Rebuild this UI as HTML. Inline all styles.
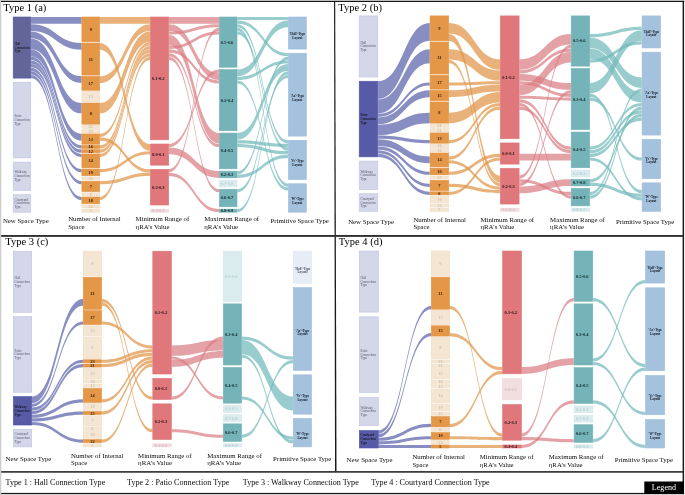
<!DOCTYPE html>
<html><head><meta charset="utf-8"><style>
html,body{margin:0;padding:0;background:#fff;}
svg{display:block;filter:blur(0.4px);}
text{font-family:"Liberation Serif",serif;}
</style></head><body>
<svg width="685" height="495" viewBox="0 0 685 495">
<rect x="0" y="0" width="685" height="495" fill="#fff"/>
<g fill="#5a63aa" fill-opacity="0.72"><path d="M31.05,16.93C56.32,16.93 56.32,16.93 81.6,16.93L81.6,23.73C56.32,23.73 56.32,23.73 31.05,23.73Z"/><path d="M31.05,24.19C56.32,24.19 56.32,42.96 81.6,42.96L81.6,49.77C56.32,49.77 56.32,31 31.05,31Z"/><path d="M31.05,31.45C56.32,31.45 56.32,76.26 81.6,76.26L81.6,83.07C56.32,83.07 56.32,38.26 31.05,38.26Z"/><path d="M31.05,38.71C56.32,38.71 56.32,102.93 81.6,102.93L81.6,113.37C56.32,113.37 56.32,49.15 31.05,49.15Z"/><path d="M31.05,49.6C56.32,49.6 56.32,133.85 81.6,133.85L81.6,140.66C56.32,140.66 56.32,56.41 31.05,56.41Z"/><path d="M31.05,56.85C56.32,56.85 56.32,145.37 81.6,145.37L81.6,148.55C56.32,148.55 56.32,60.03 31.05,60.03Z"/><path d="M31.05,60.49C56.32,60.49 56.32,149.62 81.6,149.62L81.6,152.8C56.32,152.8 56.32,63.67 31.05,63.67Z"/><path d="M31.05,64.11C56.32,64.11 56.32,153.88 81.6,153.88L81.6,157.06C56.32,157.06 56.32,67.29 31.05,67.29Z"/><path d="M31.05,67.74C56.32,67.74 56.32,169.03 81.6,169.03L81.6,172.21C56.32,172.21 56.32,70.92 31.05,70.92Z"/><path d="M31.05,71.37C56.32,71.37 56.32,181.17 81.6,181.17L81.6,184.35C56.32,184.35 56.32,74.55 31.05,74.55Z"/><path d="M31.05,75C56.32,75 56.32,196.95 81.6,196.95L81.6,200.13C56.32,200.13 56.32,78.19 31.05,78.19Z"/></g>
<g fill="#df9446" fill-opacity="0.72"><path d="M100,16.93C125.03,16.93 125.03,16.93 150.05,16.93L150.05,23.73C125.03,23.73 125.03,23.73 100,23.73Z"/><path d="M100,42.96C125.03,42.96 125.03,143.9 150.05,143.9L150.05,150.71C125.03,150.71 125.03,49.77 100,49.77Z"/><path d="M100,76.26C125.03,76.26 125.03,24.19 150.05,24.19L150.05,31C125.03,31 125.03,83.07 100,83.07Z"/><path d="M100,102.93C125.03,102.93 125.03,31.45 150.05,31.45L150.05,41.89C125.03,41.89 125.03,113.37 100,113.37Z"/><path d="M100,133.85C125.03,133.85 125.03,42.34 150.05,42.34L150.05,45.52C125.03,45.52 125.03,137.03 100,137.03Z"/><path d="M100,137.48C125.03,137.48 125.03,169.24 150.05,169.24L150.05,172.42C125.03,172.42 125.03,140.66 100,140.66Z"/><path d="M100,145.37C125.03,145.37 125.03,45.96 150.05,45.96L150.05,49.14C125.03,49.14 125.03,148.55 100,148.55Z"/><path d="M100,149.62C125.03,149.62 125.03,49.6 150.05,49.6L150.05,52.78C125.03,52.78 125.03,152.8 100,152.8Z"/><path d="M100,153.88C125.03,153.88 125.03,53.23 150.05,53.23L150.05,56.41C125.03,56.41 125.03,157.06 100,157.06Z"/><path d="M100,169.03C125.03,169.03 125.03,151.16 150.05,151.16L150.05,154.34C125.03,154.34 125.03,172.21 100,172.21Z"/><path d="M100,181.17C125.03,181.17 125.03,172.87 150.05,172.87L150.05,176.05C125.03,176.05 125.03,184.35 100,184.35Z"/><path d="M100,196.95C125.03,196.95 125.03,56.85 150.05,56.85L150.05,60.03C125.03,60.03 125.03,200.13 100,200.13Z"/></g>
<g fill="#d97d83" fill-opacity="0.72"><path d="M169,16.93C194.03,16.93 194.03,16.93 219.05,16.93L219.05,23.73C194.03,23.73 194.03,23.73 169,23.73Z"/><path d="M169,24.19C194.03,24.19 194.03,73.15 219.05,73.15L219.05,79.96C194.03,79.96 194.03,31 169,31Z"/><path d="M169,31.45C194.03,31.45 194.03,24.19 219.05,24.19L219.05,27.37C194.03,27.37 194.03,34.62 169,34.62Z"/><path d="M169,35.07C194.03,35.07 194.03,133.01 219.05,133.01L219.05,143.45C194.03,143.45 194.03,45.52 169,45.52Z"/><path d="M169,45.96C194.03,45.96 194.03,31.45 219.05,31.45L219.05,34.62C194.03,34.62 194.03,49.14 169,49.14Z"/><path d="M169,49.6C194.03,49.6 194.03,80.41 219.05,80.41L219.05,83.59C194.03,83.59 194.03,52.78 169,52.78Z"/><path d="M169,53.23C194.03,53.23 194.03,143.9 219.05,143.9L219.05,147.08C194.03,147.08 194.03,56.41 169,56.41Z"/><path d="M169,56.85C194.03,56.85 194.03,189.17 219.05,189.17L219.05,192.35C194.03,192.35 194.03,60.03 169,60.03Z"/><path d="M169,143.9C194.03,143.9 194.03,69.52 219.05,69.52L219.05,72.7C194.03,72.7 194.03,147.08 169,147.08Z"/><path d="M169,147.53C194.03,147.53 194.03,171.09 219.05,171.09L219.05,177.9C194.03,177.9 194.03,154.34 169,154.34Z"/><path d="M169,169.24C194.03,169.24 194.03,27.82 219.05,27.82L219.05,31C194.03,31 194.03,172.42 169,172.42Z"/><path d="M169,172.87C194.03,172.87 194.03,209.09 219.05,209.09L219.05,212.28C194.03,212.28 194.03,176.05 169,176.05Z"/></g>
<g fill="#72b8ba" fill-opacity="0.72"><path d="M237.3,16.93C262.68,16.93 262.68,16.93 288.05,16.93L288.05,20.11C262.68,20.11 262.68,20.11 237.3,20.11Z"/><path d="M237.3,20.55C262.68,20.55 262.68,53.15 288.05,53.15L288.05,56.33C262.68,56.33 262.68,23.73 237.3,23.73Z"/><path d="M237.3,24.19C262.68,24.19 262.68,140.2 288.05,140.2L288.05,143.38C262.68,143.38 262.68,27.37 237.3,27.37Z"/><path d="M237.3,27.82C262.68,27.82 262.68,183.69 288.05,183.69L288.05,186.87C262.68,186.87 262.68,31 237.3,31Z"/><path d="M237.3,31.45C262.68,31.45 262.68,147.46 288.05,147.46L288.05,150.64C262.68,150.64 262.68,34.62 237.3,34.62Z"/><path d="M237.3,69.52C262.68,69.52 262.68,20.55 288.05,20.55L288.05,27.36C262.68,27.36 262.68,76.33 237.3,76.33Z"/><path d="M237.3,76.78C262.68,76.78 262.68,60.41 288.05,60.41L288.05,63.59C262.68,63.59 262.68,79.96 237.3,79.96Z"/><path d="M237.3,80.41C262.68,80.41 262.68,187.32 288.05,187.32L288.05,190.5C262.68,190.5 262.68,83.59 237.3,83.59Z"/><path d="M237.3,133.01C262.68,133.01 262.68,64.04 288.05,64.04L288.05,70.85C262.68,70.85 262.68,139.82 237.3,139.82Z"/><path d="M237.3,140.27C262.68,140.27 262.68,143.83 288.05,143.83L288.05,147.01C262.68,147.01 262.68,143.45 237.3,143.45Z"/><path d="M237.3,143.9C262.68,143.9 262.68,151.09 288.05,151.09L288.05,154.27C262.68,154.27 262.68,147.08 237.3,147.08Z"/><path d="M237.3,171.09C262.68,171.09 262.68,56.78 288.05,56.78L288.05,59.96C262.68,59.96 262.68,174.27 237.3,174.27Z"/><path d="M237.3,174.72C262.68,174.72 262.68,154.72 288.05,154.72L288.05,157.9C262.68,157.9 262.68,177.9 237.3,177.9Z"/><path d="M237.3,189.17C262.68,189.17 262.68,74.93 288.05,74.93L288.05,78.11C262.68,78.11 262.68,192.35 237.3,192.35Z"/><path d="M237.3,209.09C262.68,209.09 262.68,71.3 288.05,71.3L288.05,74.48C262.68,74.48 262.68,212.28 237.3,212.28Z"/></g>
<rect x="13.2" y="17" width="17.55" height="61.11" fill="#636598" stroke="#5056a8" stroke-width="0.6"/>
<rect x="13.2" y="82.27" width="17.55" height="75.63" fill="#d4d7e9" stroke="#bfc4e2" stroke-width="0.6"/>
<rect x="13.2" y="162.05" width="17.55" height="28.44" fill="#d4d7e9" stroke="#bfc4e2" stroke-width="0.6"/>
<rect x="13.2" y="194.65" width="17.55" height="17.55" fill="#d4d7e9" stroke="#bfc4e2" stroke-width="0.6"/>
<rect x="81.9" y="17" width="17.8" height="24.81" fill="#e49747" stroke="#e39340" stroke-width="0.6"/>
<rect x="81.9" y="43.04" width="17.8" height="32.07" fill="#e49747" stroke="#e39340" stroke-width="0.6"/>
<rect x="81.9" y="76.34" width="17.8" height="13.92" fill="#e49747" stroke="#e39340" stroke-width="0.6"/>
<rect x="81.9" y="91.48" width="17.8" height="10.29" fill="#f4e6d2" stroke="#f0dcc4" stroke-width="0.6"/>
<rect x="81.9" y="103" width="17.8" height="21.18" fill="#e49747" stroke="#e39340" stroke-width="0.6"/>
<rect x="81.9" y="125.41" width="17.8" height="3.03" fill="#f4e6d2" stroke="#f0dcc4" stroke-width="0.6"/>
<rect x="81.9" y="129.67" width="17.8" height="3.03" fill="#f4e6d2" stroke="#f0dcc4" stroke-width="0.6"/>
<rect x="81.9" y="133.92" width="17.8" height="10.29" fill="#e49747" stroke="#e39340" stroke-width="0.6"/>
<rect x="81.9" y="145.44" width="17.8" height="3.03" fill="#e49747" stroke="#e39340" stroke-width="0.6"/>
<rect x="81.9" y="149.7" width="17.8" height="3.03" fill="#e49747" stroke="#e39340" stroke-width="0.6"/>
<rect x="81.9" y="153.96" width="17.8" height="13.92" fill="#e49747" stroke="#e39340" stroke-width="0.6"/>
<rect x="81.9" y="169.1" width="17.8" height="6.66" fill="#e49747" stroke="#e39340" stroke-width="0.6"/>
<rect x="81.9" y="176.99" width="17.8" height="3.03" fill="#f4e6d2" stroke="#f0dcc4" stroke-width="0.6"/>
<rect x="81.9" y="181.25" width="17.8" height="10.29" fill="#e49747" stroke="#e39340" stroke-width="0.6"/>
<rect x="81.9" y="192.77" width="17.8" height="3.03" fill="#f4e6d2" stroke="#f0dcc4" stroke-width="0.6"/>
<rect x="81.9" y="197.02" width="17.8" height="6.66" fill="#e49747" stroke="#e39340" stroke-width="0.6"/>
<rect x="81.9" y="204.91" width="17.8" height="3.03" fill="#f4e6d2" stroke="#f0dcc4" stroke-width="0.6"/>
<rect x="81.9" y="209.17" width="17.8" height="3.03" fill="#f4e6d2" stroke="#f0dcc4" stroke-width="0.6"/>
<rect x="150.35" y="17" width="18.35" height="122.82" fill="#df777b" stroke="#df777b" stroke-width="0.6"/>
<rect x="150.35" y="143.98" width="18.35" height="21.18" fill="#df777b" stroke="#df777b" stroke-width="0.6"/>
<rect x="150.35" y="169.31" width="18.35" height="35.7" fill="#df777b" stroke="#df777b" stroke-width="0.6"/>
<rect x="150.35" y="209.17" width="18.35" height="3.03" fill="#f2dde0" stroke="#f0d6da" stroke-width="0.6"/>
<rect x="219.35" y="17" width="17.65" height="50.22" fill="#74b3b8" stroke="#74b3b8" stroke-width="0.6"/>
<rect x="219.35" y="69.6" width="17.65" height="61.11" fill="#74b3b8" stroke="#74b3b8" stroke-width="0.6"/>
<rect x="219.35" y="133.09" width="17.65" height="35.7" fill="#74b3b8" stroke="#74b3b8" stroke-width="0.6"/>
<rect x="219.35" y="171.17" width="17.65" height="6.66" fill="#74b3b8" stroke="#74b3b8" stroke-width="0.6"/>
<rect x="219.35" y="180.2" width="17.65" height="6.66" fill="#dbecef" stroke="#d2e6e9" stroke-width="0.6"/>
<rect x="219.35" y="189.24" width="17.65" height="17.55" fill="#74b3b8" stroke="#74b3b8" stroke-width="0.6"/>
<rect x="219.35" y="209.17" width="17.65" height="3.03" fill="#74b3b8" stroke="#74b3b8" stroke-width="0.6"/>
<rect x="288.35" y="17" width="18" height="32.07" fill="#a4c1dd" stroke="#a0bedc" stroke-width="0.6"/>
<rect x="288.35" y="53.23" width="18" height="82.89" fill="#a4c1dd" stroke="#a0bedc" stroke-width="0.6"/>
<rect x="288.35" y="140.27" width="18" height="39.33" fill="#a4c1dd" stroke="#a0bedc" stroke-width="0.6"/>
<rect x="288.35" y="183.76" width="18" height="28.44" fill="#a4c1dd" stroke="#a0bedc" stroke-width="0.6"/>
<text x="14.5" y="44.76" font-size="3.3" fill="#000000">Hall</text>
<text x="14.5" y="48.55" font-size="3.3" fill="#000000">Connection</text>
<text x="14.5" y="52.35" font-size="3.3" fill="#000000">Type</text>
<text x="14.5" y="117.28" font-size="3.3" fill="#55576a">Patio</text>
<text x="14.5" y="121.08" font-size="3.3" fill="#55576a">Connection</text>
<text x="14.5" y="124.88" font-size="3.3" fill="#55576a">Type</text>
<text x="14.5" y="173.47" font-size="3.3" fill="#55576a">Walkway</text>
<text x="14.5" y="177.27" font-size="3.3" fill="#55576a">Connection</text>
<text x="14.5" y="181.07" font-size="3.3" fill="#55576a">Type</text>
<text x="14.5" y="200.62" font-size="3.3" fill="#55576a">Courtyard</text>
<text x="14.5" y="204.43" font-size="3.3" fill="#55576a">Connection</text>
<text x="14.5" y="208.23" font-size="3.3" fill="#55576a">Type</text>
<text x="90.8" y="30.86" font-size="4.4" font-weight="bold" text-anchor="middle" fill="#2a1a08">9</text>
<text x="90.8" y="60.52" font-size="4.4" font-weight="bold" text-anchor="middle" fill="#2a1a08">11</text>
<text x="90.8" y="84.75" font-size="4.4" font-weight="bold" text-anchor="middle" fill="#2a1a08">17</text>
<text x="90.8" y="98.08" font-size="4.4" font-weight="bold" text-anchor="middle" fill="#cfc3b0">15</text>
<text x="90.8" y="115.04" font-size="4.4" font-weight="bold" text-anchor="middle" fill="#2a1a08">8</text>
<text x="90.8" y="128.37" font-size="4.4" font-weight="bold" text-anchor="middle" fill="#cfc3b0">21</text>
<text x="90.8" y="132.63" font-size="4.4" font-weight="bold" text-anchor="middle" fill="#cfc3b0">23</text>
<text x="90.8" y="140.52" font-size="4.4" font-weight="bold" text-anchor="middle" fill="#2a1a08">13</text>
<text x="90.8" y="148.41" font-size="4.4" font-weight="bold" text-anchor="middle" fill="#2a1a08">16</text>
<text x="90.8" y="152.66" font-size="4.4" font-weight="bold" text-anchor="middle" fill="#2a1a08">12</text>
<text x="90.8" y="162.37" font-size="4.4" font-weight="bold" text-anchor="middle" fill="#2a1a08">14</text>
<text x="90.8" y="173.88" font-size="4.4" font-weight="bold" text-anchor="middle" fill="#2a1a08">19</text>
<text x="90.8" y="179.96" font-size="4.4" font-weight="bold" text-anchor="middle" fill="#cfc3b0">25</text>
<text x="90.8" y="187.84" font-size="4.4" font-weight="bold" text-anchor="middle" fill="#2a1a08">7</text>
<text x="90.8" y="195.73" font-size="4.4" font-weight="bold" text-anchor="middle" fill="#cfc3b0">6</text>
<text x="90.8" y="201.8" font-size="4.4" font-weight="bold" text-anchor="middle" fill="#2a1a08">18</text>
<text x="90.8" y="207.88" font-size="4.4" font-weight="bold" text-anchor="middle" fill="#cfc3b0">22</text>
<text x="90.8" y="212.13" font-size="4.4" font-weight="bold" text-anchor="middle" fill="#cfc3b0">5</text>
<text x="158.33" y="79.86" font-size="4.4" font-weight="bold" text-anchor="middle" fill="#2a1214">0.1-0.2</text>
<text x="158.33" y="156.02" font-size="4.4" font-weight="bold" text-anchor="middle" fill="#2a1214">0.0-0.1</text>
<text x="158.33" y="188.61" font-size="4.4" font-weight="bold" text-anchor="middle" fill="#2a1214">0.2-0.3</text>
<text x="158.33" y="212.13" font-size="4.4" font-weight="bold" text-anchor="middle" fill="#d3bfc2">0.3-0.4</text>
<text x="226.98" y="43.56" font-size="4.4" font-weight="bold" text-anchor="middle" fill="#10282a">0.5-0.6</text>
<text x="226.98" y="101.6" font-size="4.4" font-weight="bold" text-anchor="middle" fill="#10282a">0.3-0.4</text>
<text x="226.98" y="152.39" font-size="4.4" font-weight="bold" text-anchor="middle" fill="#10282a">0.4-0.5</text>
<text x="226.98" y="175.94" font-size="4.4" font-weight="bold" text-anchor="middle" fill="#10282a">0.2-0.3</text>
<text x="226.98" y="184.98" font-size="4.4" font-weight="bold" text-anchor="middle" fill="#b9cfd2">0.7-0.8</text>
<text x="226.98" y="199.47" font-size="4.4" font-weight="bold" text-anchor="middle" fill="#10282a">0.6-0.7</text>
<text x="226.98" y="212.13" font-size="4.4" font-weight="bold" text-anchor="middle" fill="#10282a">0.8-0.9</text>
<text x="297.35" y="35.34" font-size="3.3" font-weight="bold" text-anchor="middle" fill="#101820">'Hall'-Type</text>
<text x="297.35" y="38.99" font-size="3.3" font-weight="bold" text-anchor="middle" fill="#101820">Layout</text>
<text x="297.35" y="96.97" font-size="3.3" font-weight="bold" text-anchor="middle" fill="#101820">'Ax'-Type</text>
<text x="297.35" y="100.62" font-size="3.3" font-weight="bold" text-anchor="middle" fill="#101820">Layout</text>
<text x="297.35" y="162.24" font-size="3.3" font-weight="bold" text-anchor="middle" fill="#101820">'Ve'-Type</text>
<text x="297.35" y="165.89" font-size="3.3" font-weight="bold" text-anchor="middle" fill="#101820">Layout</text>
<text x="297.35" y="200.28" font-size="3.3" font-weight="bold" text-anchor="middle" fill="#101820">'W'-Type</text>
<text x="297.35" y="203.93" font-size="3.3" font-weight="bold" text-anchor="middle" fill="#101820">Layout</text>
<text x="3.3" y="10.8" font-size="10.5" fill="#000">Type 1 (a)</text>
<g font-size="6.8" fill="#0a0a0a">
<text x="2.9" y="223.4">New Space Type</text>
<text x="68.2" y="221.4">Number of Internal</text>
<text x="68.2" y="228.6">Space</text>
<text x="135.6" y="221.4">Minimum Range of</text>
<text x="135.6" y="228.6">ηRA’s Value</text>
<text x="204.3" y="221.4">Maximum Range of</text>
<text x="204.3" y="228.6">ηRA’s Value</text>
<text x="270.6" y="223.4">Primitive Space Type</text>
</g>
<g fill="#5a63aa" fill-opacity="0.72"><path d="M378.1,81.16C403.95,81.16 403.95,23.09 429.8,23.09L429.8,40.78C403.95,40.78 403.95,98.86 378.1,98.86Z"/><path d="M378.1,99.31C403.95,99.31 403.95,49.13 429.8,49.13L429.8,63.2C403.95,63.2 403.95,113.38 378.1,113.38Z"/><path d="M378.1,113.83C403.95,113.83 403.95,82.44 429.8,82.44L429.8,85.62C403.95,85.62 403.95,117.01 378.1,117.01Z"/><path d="M378.1,117.46C403.95,117.46 403.95,90.34 429.8,90.34L429.8,97.15C403.95,97.15 403.95,124.27 378.1,124.27Z"/><path d="M378.1,124.72C403.95,124.72 403.95,112.76 429.8,112.76L429.8,123.2C403.95,123.2 403.95,135.16 378.1,135.16Z"/><path d="M378.1,135.61C403.95,135.61 403.95,140.09 429.8,140.09L429.8,143.27C403.95,143.27 403.95,138.79 378.1,138.79Z"/><path d="M378.1,139.24C403.95,139.24 403.95,156.53 429.8,156.53L429.8,163.34C403.95,163.34 403.95,146.05 378.1,146.05Z"/><path d="M378.1,146.5C403.95,146.5 403.95,171.69 429.8,171.69L429.8,174.87C403.95,174.87 403.95,149.68 378.1,149.68Z"/><path d="M378.1,150.13C403.95,150.13 403.95,183.86 429.8,183.86L429.8,187.04C403.95,187.04 403.95,153.31 378.1,153.31Z"/><path d="M378.1,153.76C403.95,153.76 403.95,191.76 429.8,191.76L429.8,194.94C403.95,194.94 403.95,156.94 378.1,156.94Z"/></g>
<g fill="#df9446" fill-opacity="0.72"><path d="M449,23.09C474.5,23.09 474.5,59.39 500,59.39L500,69.83C474.5,69.83 474.5,33.53 449,33.53Z"/><path d="M449,33.98C474.5,33.98 474.5,175.53 500,175.53L500,182.34C474.5,182.34 474.5,40.79 449,40.79Z"/><path d="M449,49.13C474.5,49.13 474.5,70.27 500,70.27L500,80.71C474.5,80.71 474.5,59.57 449,59.57Z"/><path d="M449,60.02C474.5,60.02 474.5,182.79 500,182.79L500,185.97C474.5,185.97 474.5,63.2 449,63.2Z"/><path d="M449,82.44C474.5,82.44 474.5,81.16 500,81.16L500,84.34C474.5,84.34 474.5,85.62 449,85.62Z"/><path d="M449,90.34C474.5,90.34 474.5,84.79 500,84.79L500,91.6C474.5,91.6 474.5,97.15 449,97.15Z"/><path d="M449,112.76C474.5,112.76 474.5,92.05 500,92.05L500,102.49C474.5,102.49 474.5,123.2 449,123.2Z"/><path d="M449,140.09C474.5,140.09 474.5,102.94 500,102.94L500,106.12C474.5,106.12 474.5,143.27 449,143.27Z"/><path d="M449,156.53C474.5,156.53 474.5,106.57 500,106.57L500,109.75C474.5,109.75 474.5,159.71 449,159.71Z"/><path d="M449,160.16C474.5,160.16 474.5,186.42 500,186.42L500,189.6C474.5,189.6 474.5,163.34 449,163.34Z"/><path d="M449,171.69C474.5,171.69 474.5,153.76 500,153.76L500,156.94C474.5,156.94 474.5,174.87 449,174.87Z"/><path d="M449,183.86C474.5,183.86 474.5,190.05 500,190.05L500,193.23C474.5,193.23 474.5,187.04 449,187.04Z"/><path d="M449,191.76C474.5,191.76 474.5,157.39 500,157.39L500,160.57C474.5,160.57 474.5,194.94 449,194.94Z"/></g>
<g fill="#d97d83" fill-opacity="0.72"><path d="M519.4,59.39C545.15,59.39 545.15,33.98 570.9,33.98L570.9,44.42C545.15,44.42 545.15,69.83 519.4,69.83Z"/><path d="M519.4,70.27C545.15,70.27 545.15,48.5 570.9,48.5L570.9,51.68C545.15,51.68 545.15,73.45 519.4,73.45Z"/><path d="M519.4,73.9C545.15,73.9 545.15,82.98 570.9,82.98L570.9,89.79C545.15,89.79 545.15,80.71 519.4,80.71Z"/><path d="M519.4,81.16C545.15,81.16 545.15,93.87 570.9,93.87L570.9,97.05C545.15,97.05 545.15,84.34 519.4,84.34Z"/><path d="M519.4,84.79C545.15,84.79 545.15,52.12 570.9,52.12L570.9,62.56C545.15,62.56 545.15,95.23 519.4,95.23Z"/><path d="M519.4,95.68C545.15,95.68 545.15,97.5 570.9,97.5L570.9,100.68C545.15,100.68 545.15,98.86 519.4,98.86Z"/><path d="M519.4,99.31C545.15,99.31 545.15,146.5 570.9,146.5L570.9,149.68C545.15,149.68 545.15,102.49 519.4,102.49Z"/><path d="M519.4,102.94C545.15,102.94 545.15,195.49 570.9,195.49L570.9,198.67C545.15,198.67 545.15,106.12 519.4,106.12Z"/><path d="M519.4,106.57C545.15,106.57 545.15,150.13 570.9,150.13L570.9,153.31C545.15,153.31 545.15,109.75 519.4,109.75Z"/><path d="M519.4,153.76C545.15,153.76 545.15,153.76 570.9,153.76L570.9,160.57C545.15,160.57 545.15,160.57 519.4,160.57Z"/><path d="M519.4,175.53C545.15,175.53 545.15,44.87 570.9,44.87L570.9,48.05C545.15,48.05 545.15,178.71 519.4,178.71Z"/><path d="M519.4,179.16C545.15,179.16 545.15,191.86 570.9,191.86L570.9,195.04C545.15,195.04 545.15,182.34 519.4,182.34Z"/><path d="M519.4,182.79C545.15,182.79 545.15,90.24 570.9,90.24L570.9,93.42C545.15,93.42 545.15,185.97 519.4,185.97Z"/><path d="M519.4,186.42C545.15,186.42 545.15,179.16 570.9,179.16L570.9,185.97C545.15,185.97 545.15,193.23 519.4,193.23Z"/></g>
<g fill="#72b8ba" fill-opacity="0.72"><path d="M590,33.98C615.9,33.98 615.9,26.72 641.8,26.72L641.8,29.9C615.9,29.9 615.9,37.16 590,37.16Z"/><path d="M590,37.61C615.9,37.61 615.9,77.53 641.8,77.53L641.8,87.97C615.9,87.97 615.9,48.05 590,48.05Z"/><path d="M590,48.5C615.9,48.5 615.9,92.05 641.8,92.05L641.8,102.49C615.9,102.49 615.9,58.94 590,58.94Z"/><path d="M590,59.39C615.9,59.39 615.9,41.23 641.8,41.23L641.8,44.41C615.9,44.41 615.9,62.57 590,62.57Z"/><path d="M590,82.98C615.9,82.98 615.9,30.34 641.8,30.34L641.8,40.78C615.9,40.78 615.9,93.42 590,93.42Z"/><path d="M590,93.87C615.9,93.87 615.9,190.04 641.8,190.04L641.8,193.22C615.9,193.22 615.9,97.05 590,97.05Z"/><path d="M590,97.5C615.9,97.5 615.9,157.38 641.8,157.38L641.8,160.56C615.9,160.56 615.9,100.68 590,100.68Z"/><path d="M590,146.5C615.9,146.5 615.9,102.94 641.8,102.94L641.8,106.12C615.9,106.12 615.9,149.68 590,149.68Z"/><path d="M590,150.13C615.9,150.13 615.9,110.2 641.8,110.2L641.8,113.38C615.9,113.38 615.9,153.31 590,153.31Z"/><path d="M590,153.76C615.9,153.76 615.9,117.46 641.8,117.46L641.8,120.64C615.9,120.64 615.9,156.94 590,156.94Z"/><path d="M590,157.39C615.9,157.39 615.9,197.31 641.8,197.31L641.8,200.49C615.9,200.49 615.9,160.57 590,160.57Z"/><path d="M590,179.16C615.9,179.16 615.9,113.83 641.8,113.83L641.8,117.01C615.9,117.01 615.9,182.34 590,182.34Z"/><path d="M590,182.79C615.9,182.79 615.9,193.67 641.8,193.67L641.8,196.85C615.9,196.85 615.9,185.97 590,185.97Z"/><path d="M590,191.86C615.9,191.86 615.9,88.42 641.8,88.42L641.8,91.6C615.9,91.6 615.9,195.04 590,195.04Z"/><path d="M590,195.49C615.9,195.49 615.9,106.57 641.8,106.57L641.8,109.75C615.9,109.75 615.9,198.67 590,198.67Z"/></g>
<rect x="359.2" y="15.9" width="18.6" height="61.11" fill="#d4d7e9" stroke="#bfc4e2" stroke-width="0.6"/>
<rect x="359.2" y="81.23" width="18.6" height="75.63" fill="#575aa4" stroke="#5056a8" stroke-width="0.6"/>
<rect x="359.2" y="161.09" width="18.6" height="28.44" fill="#d4d7e9" stroke="#bfc4e2" stroke-width="0.6"/>
<rect x="359.2" y="193.75" width="18.6" height="17.55" fill="#d4d7e9" stroke="#bfc4e2" stroke-width="0.6"/>
<rect x="430.1" y="15.9" width="18.6" height="24.81" fill="#e49747" stroke="#e39340" stroke-width="0.6"/>
<rect x="430.1" y="41.95" width="18.6" height="32.07" fill="#e49747" stroke="#e39340" stroke-width="0.6"/>
<rect x="430.1" y="75.26" width="18.6" height="13.92" fill="#e49747" stroke="#e39340" stroke-width="0.6"/>
<rect x="430.1" y="90.42" width="18.6" height="10.29" fill="#e49747" stroke="#e39340" stroke-width="0.6"/>
<rect x="430.1" y="101.95" width="18.6" height="21.18" fill="#e49747" stroke="#e39340" stroke-width="0.6"/>
<rect x="430.1" y="124.37" width="18.6" height="3.03" fill="#f4e6d2" stroke="#f0dcc4" stroke-width="0.6"/>
<rect x="430.1" y="128.64" width="18.6" height="3.03" fill="#f4e6d2" stroke="#f0dcc4" stroke-width="0.6"/>
<rect x="430.1" y="132.91" width="18.6" height="10.29" fill="#e49747" stroke="#e39340" stroke-width="0.6"/>
<rect x="430.1" y="144.44" width="18.6" height="3.03" fill="#f4e6d2" stroke="#f0dcc4" stroke-width="0.6"/>
<rect x="430.1" y="148.7" width="18.6" height="3.03" fill="#f4e6d2" stroke="#f0dcc4" stroke-width="0.6"/>
<rect x="430.1" y="152.97" width="18.6" height="13.92" fill="#e49747" stroke="#e39340" stroke-width="0.6"/>
<rect x="430.1" y="168.13" width="18.6" height="6.66" fill="#e49747" stroke="#e39340" stroke-width="0.6"/>
<rect x="430.1" y="176.03" width="18.6" height="3.03" fill="#f4e6d2" stroke="#f0dcc4" stroke-width="0.6"/>
<rect x="430.1" y="180.3" width="18.6" height="10.29" fill="#e49747" stroke="#e39340" stroke-width="0.6"/>
<rect x="430.1" y="191.83" width="18.6" height="3.03" fill="#e49747" stroke="#e39340" stroke-width="0.6"/>
<rect x="430.1" y="196.1" width="18.6" height="6.66" fill="#f4e6d2" stroke="#f0dcc4" stroke-width="0.6"/>
<rect x="430.1" y="204" width="18.6" height="3.03" fill="#f4e6d2" stroke="#f0dcc4" stroke-width="0.6"/>
<rect x="430.1" y="208.27" width="18.6" height="3.03" fill="#f4e6d2" stroke="#f0dcc4" stroke-width="0.6"/>
<rect x="500.3" y="15.9" width="18.8" height="122.82" fill="#df777b" stroke="#df777b" stroke-width="0.6"/>
<rect x="500.3" y="142.94" width="18.8" height="21.18" fill="#df777b" stroke="#df777b" stroke-width="0.6"/>
<rect x="500.3" y="168.35" width="18.8" height="35.7" fill="#df777b" stroke="#df777b" stroke-width="0.6"/>
<rect x="500.3" y="208.27" width="18.8" height="3.03" fill="#f2dde0" stroke="#f0d6da" stroke-width="0.6"/>
<rect x="571.2" y="15.9" width="18.5" height="50.22" fill="#74b3b8" stroke="#74b3b8" stroke-width="0.6"/>
<rect x="571.2" y="68.53" width="18.5" height="61.11" fill="#74b3b8" stroke="#74b3b8" stroke-width="0.6"/>
<rect x="571.2" y="132.05" width="18.5" height="35.7" fill="#74b3b8" stroke="#74b3b8" stroke-width="0.6"/>
<rect x="571.2" y="170.17" width="18.5" height="6.66" fill="#dbecef" stroke="#d2e6e9" stroke-width="0.6"/>
<rect x="571.2" y="179.24" width="18.5" height="6.66" fill="#74b3b8" stroke="#74b3b8" stroke-width="0.6"/>
<rect x="571.2" y="188.31" width="18.5" height="17.55" fill="#74b3b8" stroke="#74b3b8" stroke-width="0.6"/>
<rect x="571.2" y="208.27" width="18.5" height="3.03" fill="#dbecef" stroke="#d2e6e9" stroke-width="0.6"/>
<rect x="642.1" y="15.9" width="18.5" height="32.07" fill="#a4c1dd" stroke="#a0bedc" stroke-width="0.6"/>
<rect x="642.1" y="52.19" width="18.5" height="82.89" fill="#a4c1dd" stroke="#a0bedc" stroke-width="0.6"/>
<rect x="642.1" y="139.31" width="18.5" height="39.33" fill="#a4c1dd" stroke="#a0bedc" stroke-width="0.6"/>
<rect x="642.1" y="182.86" width="18.5" height="28.44" fill="#a4c1dd" stroke="#a0bedc" stroke-width="0.6"/>
<text x="360.5" y="43.66" font-size="3.3" fill="#55576a">Hall</text>
<text x="360.5" y="47.45" font-size="3.3" fill="#55576a">Connection</text>
<text x="360.5" y="51.25" font-size="3.3" fill="#55576a">Type</text>
<text x="360.5" y="116.25" font-size="3.3" fill="#000000">Patio</text>
<text x="360.5" y="120.05" font-size="3.3" fill="#000000">Connection</text>
<text x="360.5" y="123.85" font-size="3.3" fill="#000000">Type</text>
<text x="360.5" y="172.51" font-size="3.3" fill="#55576a">Walkway</text>
<text x="360.5" y="176.31" font-size="3.3" fill="#55576a">Connection</text>
<text x="360.5" y="180.11" font-size="3.3" fill="#55576a">Type</text>
<text x="360.5" y="199.73" font-size="3.3" fill="#55576a">Courtyard</text>
<text x="360.5" y="203.53" font-size="3.3" fill="#55576a">Connection</text>
<text x="360.5" y="207.33" font-size="3.3" fill="#55576a">Type</text>
<text x="439.4" y="29.75" font-size="4.4" font-weight="bold" text-anchor="middle" fill="#2a1a08">9</text>
<text x="439.4" y="59.43" font-size="4.4" font-weight="bold" text-anchor="middle" fill="#2a1a08">11</text>
<text x="439.4" y="83.67" font-size="4.4" font-weight="bold" text-anchor="middle" fill="#2a1a08">17</text>
<text x="439.4" y="97.01" font-size="4.4" font-weight="bold" text-anchor="middle" fill="#2a1a08">15</text>
<text x="439.4" y="113.99" font-size="4.4" font-weight="bold" text-anchor="middle" fill="#2a1a08">8</text>
<text x="439.4" y="127.33" font-size="4.4" font-weight="bold" text-anchor="middle" fill="#cfc3b0">21</text>
<text x="439.4" y="131.6" font-size="4.4" font-weight="bold" text-anchor="middle" fill="#cfc3b0">21</text>
<text x="439.4" y="139.5" font-size="4.4" font-weight="bold" text-anchor="middle" fill="#2a1a08">13</text>
<text x="439.4" y="147.4" font-size="4.4" font-weight="bold" text-anchor="middle" fill="#cfc3b0">16</text>
<text x="439.4" y="151.67" font-size="4.4" font-weight="bold" text-anchor="middle" fill="#cfc3b0">12</text>
<text x="439.4" y="161.38" font-size="4.4" font-weight="bold" text-anchor="middle" fill="#2a1a08">14</text>
<text x="439.4" y="172.91" font-size="4.4" font-weight="bold" text-anchor="middle" fill="#2a1a08">10</text>
<text x="439.4" y="179" font-size="4.4" font-weight="bold" text-anchor="middle" fill="#cfc3b0">25</text>
<text x="439.4" y="186.9" font-size="4.4" font-weight="bold" text-anchor="middle" fill="#2a1a08">7</text>
<text x="439.4" y="194.8" font-size="4.4" font-weight="bold" text-anchor="middle" fill="#2a1a08">6</text>
<text x="439.4" y="200.88" font-size="4.4" font-weight="bold" text-anchor="middle" fill="#cfc3b0">10</text>
<text x="439.4" y="206.97" font-size="4.4" font-weight="bold" text-anchor="middle" fill="#cfc3b0">22</text>
<text x="439.4" y="211.24" font-size="4.4" font-weight="bold" text-anchor="middle" fill="#cfc3b0">5</text>
<text x="508.5" y="78.76" font-size="4.4" font-weight="bold" text-anchor="middle" fill="#2a1214">0.1-0.2</text>
<text x="508.5" y="154.98" font-size="4.4" font-weight="bold" text-anchor="middle" fill="#2a1214">0.0-0.1</text>
<text x="508.5" y="187.65" font-size="4.4" font-weight="bold" text-anchor="middle" fill="#2a1214">0.2-0.3</text>
<text x="508.5" y="211.24" font-size="4.4" font-weight="bold" text-anchor="middle" fill="#d3bfc2">0.3-0.4</text>
<text x="579.25" y="42.46" font-size="4.4" font-weight="bold" text-anchor="middle" fill="#10282a">0.5-0.6</text>
<text x="579.25" y="100.54" font-size="4.4" font-weight="bold" text-anchor="middle" fill="#10282a">0.3-0.4</text>
<text x="579.25" y="151.35" font-size="4.4" font-weight="bold" text-anchor="middle" fill="#10282a">0.4-0.5</text>
<text x="579.25" y="174.94" font-size="4.4" font-weight="bold" text-anchor="middle" fill="#b9cfd2">0.2-0.3</text>
<text x="579.25" y="184.02" font-size="4.4" font-weight="bold" text-anchor="middle" fill="#10282a">0.7-0.8</text>
<text x="579.25" y="198.53" font-size="4.4" font-weight="bold" text-anchor="middle" fill="#10282a">0.6-0.7</text>
<text x="579.25" y="211.23" font-size="4.4" font-weight="bold" text-anchor="middle" fill="#b9cfd2">0.8-0.9</text>
<text x="651.35" y="32.73" font-size="3.3" font-weight="bold" text-anchor="middle" fill="#101820">'Hall'-Type</text>
<text x="651.35" y="36.39" font-size="3.3" font-weight="bold" text-anchor="middle" fill="#101820">Layout</text>
<text x="651.35" y="94.44" font-size="3.3" font-weight="bold" text-anchor="middle" fill="#101820">'Ax'-Type</text>
<text x="651.35" y="98.09" font-size="3.3" font-weight="bold" text-anchor="middle" fill="#101820">Layout</text>
<text x="651.35" y="159.77" font-size="3.3" font-weight="bold" text-anchor="middle" fill="#101820">'Ve'-Type</text>
<text x="651.35" y="163.42" font-size="3.3" font-weight="bold" text-anchor="middle" fill="#101820">Layout</text>
<text x="651.35" y="197.88" font-size="3.3" font-weight="bold" text-anchor="middle" fill="#101820">'W'-Type</text>
<text x="651.35" y="201.53" font-size="3.3" font-weight="bold" text-anchor="middle" fill="#101820">Layout</text>
<text x="338.3" y="10.8" font-size="10.5" fill="#000">Type 2 (b)</text>
<g font-size="6.8" fill="#0a0a0a">
<text x="348.2" y="224.3">New Space Type</text>
<text x="413.4" y="222.2">Number of Internal</text>
<text x="413.4" y="229.4">Space</text>
<text x="480.5" y="222.2">Minimum Range of</text>
<text x="480.5" y="229.4">ηRA’s Value</text>
<text x="550.1" y="222.2">Maximum Range of</text>
<text x="550.1" y="229.4">ηRA’s Value</text>
<text x="616" y="224.3">Primitive Space Type</text>
</g>
<g fill="#5a63aa" fill-opacity="0.72"><path d="M32,396.51C57.5,396.51 57.5,298.97 83,298.97L83,305.78C57.5,305.78 57.5,403.32 32,403.32Z"/><path d="M32,403.77C57.5,403.77 57.5,321.41 83,321.41L83,324.59C57.5,324.59 57.5,406.95 32,406.95Z"/><path d="M32,407.4C57.5,407.4 57.5,359.68 83,359.68L83,362.86C57.5,362.86 57.5,410.58 32,410.58Z"/><path d="M32,411.03C57.5,411.03 57.5,363.97 83,363.97L83,367.15C57.5,367.15 57.5,414.21 32,414.21Z"/><path d="M32,414.66C57.5,414.66 57.5,399.27 83,399.27L83,402.45C57.5,402.45 57.5,417.84 32,417.84Z"/><path d="M32,418.29C57.5,418.29 57.5,411.47 83,411.47L83,414.65C57.5,414.65 57.5,421.47 32,421.47Z"/><path d="M32,421.92C57.5,421.92 57.5,439.51 83,439.51L83,442.69C57.5,442.69 57.5,425.1 32,425.1Z"/></g>
<g fill="#df9446" fill-opacity="0.72"><path d="M101.9,298.97C127.2,298.97 127.2,396.42 152.5,396.42L152.5,399.6C127.2,399.6 127.2,302.15 101.9,302.15Z"/><path d="M101.9,302.6C127.2,302.6 127.2,429.18 152.5,429.18L152.5,432.36C127.2,432.36 127.2,305.78 101.9,305.78Z"/><path d="M101.9,321.41C127.2,321.41 127.2,345.5 152.5,345.5L152.5,348.69C127.2,348.69 127.2,324.59 101.9,324.59Z"/><path d="M101.9,359.68C127.2,359.68 127.2,349.13 152.5,349.13L152.5,352.31C127.2,352.31 127.2,362.86 101.9,362.86Z"/><path d="M101.9,363.97C127.2,363.97 127.2,352.77 152.5,352.77L152.5,355.95C127.2,355.95 127.2,367.15 101.9,367.15Z"/><path d="M101.9,399.27C127.2,399.27 127.2,356.4 152.5,356.4L152.5,359.58C127.2,359.58 127.2,402.45 101.9,402.45Z"/><path d="M101.9,411.47C127.2,411.47 127.2,360.03 152.5,360.03L152.5,363.21C127.2,363.21 127.2,414.65 101.9,414.65Z"/><path d="M101.9,439.51C127.2,439.51 127.2,363.66 152.5,363.66L152.5,366.84C127.2,366.84 127.2,442.69 101.9,442.69Z"/></g>
<g fill="#d97d83" fill-opacity="0.72"><path d="M171.7,345.5C197.35,345.5 197.35,340.11 223,340.11L223,350.55C197.35,350.55 197.35,355.94 171.7,355.94Z"/><path d="M171.7,356.4C197.35,356.4 197.35,396.42 223,396.42L223,399.6C197.35,399.6 197.35,359.58 171.7,359.58Z"/><path d="M171.7,360.03C197.35,360.03 197.35,351 223,351L223,357.81C197.35,357.81 197.35,366.84 171.7,366.84Z"/><path d="M171.7,396.42C197.35,396.42 197.35,336.48 223,336.48L223,339.66C197.35,339.66 197.35,399.6 171.7,399.6Z"/><path d="M171.7,429.18C197.35,429.18 197.35,434.67 223,434.67L223,437.85C197.35,437.85 197.35,432.36 171.7,432.36Z"/></g>
<g fill="#72b8ba" fill-opacity="0.72"><path d="M241.9,336.48C267.45,336.48 267.45,356.49 293,356.49L293,359.67C267.45,359.67 267.45,339.66 241.9,339.66Z"/><path d="M241.9,340.11C267.45,340.11 267.45,396.51 293,396.51L293,410.58C267.45,410.58 267.45,354.18 241.9,354.18Z"/><path d="M241.9,354.63C267.45,354.63 267.45,440.16 293,440.16L293,443.34C267.45,443.34 267.45,357.81 241.9,357.81Z"/><path d="M241.9,396.42C267.45,396.42 267.45,436.53 293,436.53L293,439.71C267.45,439.71 267.45,399.6 241.9,399.6Z"/><path d="M241.9,434.67C267.45,434.67 267.45,360.12 293,360.12L293,363.3C267.45,363.3 267.45,437.85 241.9,437.85Z"/></g>
<rect x="13.3" y="251.2" width="18.4" height="61.11" fill="#d4d7e9" stroke="#bfc4e2" stroke-width="0.6"/>
<rect x="13.3" y="316.63" width="18.4" height="75.63" fill="#d4d7e9" stroke="#bfc4e2" stroke-width="0.6"/>
<rect x="13.3" y="396.59" width="18.4" height="28.44" fill="#575aa4" stroke="#5056a8" stroke-width="0.6"/>
<rect x="13.3" y="429.35" width="18.4" height="17.55" fill="#d4d7e9" stroke="#bfc4e2" stroke-width="0.6"/>
<rect x="83.3" y="251.2" width="18.3" height="24.81" fill="#f4e6d2" stroke="#f0dcc4" stroke-width="0.6"/>
<rect x="83.3" y="277.27" width="18.3" height="32.07" fill="#e49747" stroke="#e39340" stroke-width="0.6"/>
<rect x="83.3" y="310.59" width="18.3" height="13.92" fill="#e49747" stroke="#e39340" stroke-width="0.6"/>
<rect x="83.3" y="325.77" width="18.3" height="10.29" fill="#f4e6d2" stroke="#f0dcc4" stroke-width="0.6"/>
<rect x="83.3" y="337.32" width="18.3" height="21.18" fill="#f4e6d2" stroke="#f0dcc4" stroke-width="0.6"/>
<rect x="83.3" y="359.76" width="18.3" height="3.03" fill="#e49747" stroke="#e39340" stroke-width="0.6"/>
<rect x="83.3" y="364.04" width="18.3" height="3.03" fill="#e49747" stroke="#e39340" stroke-width="0.6"/>
<rect x="83.3" y="368.33" width="18.3" height="10.29" fill="#f4e6d2" stroke="#f0dcc4" stroke-width="0.6"/>
<rect x="83.3" y="379.88" width="18.3" height="3.03" fill="#f4e6d2" stroke="#f0dcc4" stroke-width="0.6"/>
<rect x="83.3" y="384.16" width="18.3" height="3.03" fill="#f4e6d2" stroke="#f0dcc4" stroke-width="0.6"/>
<rect x="83.3" y="388.45" width="18.3" height="13.92" fill="#e49747" stroke="#e39340" stroke-width="0.6"/>
<rect x="83.3" y="403.63" width="18.3" height="6.66" fill="#f4e6d2" stroke="#f0dcc4" stroke-width="0.6"/>
<rect x="83.3" y="411.54" width="18.3" height="3.03" fill="#e49747" stroke="#e39340" stroke-width="0.6"/>
<rect x="83.3" y="415.83" width="18.3" height="10.29" fill="#f4e6d2" stroke="#f0dcc4" stroke-width="0.6"/>
<rect x="83.3" y="427.38" width="18.3" height="3.03" fill="#f4e6d2" stroke="#f0dcc4" stroke-width="0.6"/>
<rect x="83.3" y="431.67" width="18.3" height="6.66" fill="#f4e6d2" stroke="#f0dcc4" stroke-width="0.6"/>
<rect x="83.3" y="439.58" width="18.3" height="3.03" fill="#e49747" stroke="#e39340" stroke-width="0.6"/>
<rect x="83.3" y="443.87" width="18.3" height="3.03" fill="#f4e6d2" stroke="#f0dcc4" stroke-width="0.6"/>
<rect x="152.8" y="251.2" width="18.6" height="122.82" fill="#df777b" stroke="#df777b" stroke-width="0.6"/>
<rect x="152.8" y="378.34" width="18.6" height="21.18" fill="#df777b" stroke="#df777b" stroke-width="0.6"/>
<rect x="152.8" y="403.85" width="18.6" height="35.7" fill="#df777b" stroke="#df777b" stroke-width="0.6"/>
<rect x="152.8" y="443.87" width="18.6" height="3.03" fill="#f2dde0" stroke="#f0d6da" stroke-width="0.6"/>
<rect x="223.3" y="251.2" width="18.3" height="50.22" fill="#dbecef" stroke="#d2e6e9" stroke-width="0.6"/>
<rect x="223.3" y="303.88" width="18.3" height="61.11" fill="#74b3b8" stroke="#74b3b8" stroke-width="0.6"/>
<rect x="223.3" y="367.45" width="18.3" height="35.7" fill="#74b3b8" stroke="#74b3b8" stroke-width="0.6"/>
<rect x="223.3" y="405.62" width="18.3" height="6.66" fill="#dbecef" stroke="#d2e6e9" stroke-width="0.6"/>
<rect x="223.3" y="414.74" width="18.3" height="6.66" fill="#dbecef" stroke="#d2e6e9" stroke-width="0.6"/>
<rect x="223.3" y="423.86" width="18.3" height="17.55" fill="#74b3b8" stroke="#74b3b8" stroke-width="0.6"/>
<rect x="223.3" y="443.87" width="18.3" height="3.03" fill="#dbecef" stroke="#d2e6e9" stroke-width="0.6"/>
<rect x="293.3" y="251.2" width="18.3" height="32.07" fill="#e6edf6" stroke="#dde6f2" stroke-width="0.6"/>
<rect x="293.3" y="287.59" width="18.3" height="82.89" fill="#a4c1dd" stroke="#a0bedc" stroke-width="0.6"/>
<rect x="293.3" y="374.81" width="18.3" height="39.33" fill="#a4c1dd" stroke="#a0bedc" stroke-width="0.6"/>
<rect x="293.3" y="418.46" width="18.3" height="28.44" fill="#a4c1dd" stroke="#a0bedc" stroke-width="0.6"/>
<text x="14.6" y="278.95" font-size="3.3" fill="#55576a">Hall</text>
<text x="14.6" y="282.75" font-size="3.3" fill="#55576a">Connection</text>
<text x="14.6" y="286.56" font-size="3.3" fill="#55576a">Type</text>
<text x="14.6" y="351.65" font-size="3.3" fill="#55576a">Patio</text>
<text x="14.6" y="355.45" font-size="3.3" fill="#55576a">Connection</text>
<text x="14.6" y="359.25" font-size="3.3" fill="#55576a">Type</text>
<text x="14.6" y="408.01" font-size="3.3" fill="#000000">Walkway</text>
<text x="14.6" y="411.81" font-size="3.3" fill="#000000">Connection</text>
<text x="14.6" y="415.61" font-size="3.3" fill="#000000">Type</text>
<text x="14.6" y="435.33" font-size="3.3" fill="#55576a">Courtyard</text>
<text x="14.6" y="439.13" font-size="3.3" fill="#55576a">Connection</text>
<text x="14.6" y="442.93" font-size="3.3" fill="#55576a">Type</text>
<text x="92.45" y="265.06" font-size="4.4" font-weight="bold" text-anchor="middle" fill="#cfc3b0">9</text>
<text x="92.45" y="294.75" font-size="4.4" font-weight="bold" text-anchor="middle" fill="#2a1a08">11</text>
<text x="92.45" y="319" font-size="4.4" font-weight="bold" text-anchor="middle" fill="#2a1a08">17</text>
<text x="92.45" y="332.37" font-size="4.4" font-weight="bold" text-anchor="middle" fill="#cfc3b0">15</text>
<text x="92.45" y="349.36" font-size="4.4" font-weight="bold" text-anchor="middle" fill="#cfc3b0">8</text>
<text x="92.45" y="362.72" font-size="4.4" font-weight="bold" text-anchor="middle" fill="#2a1a08">23</text>
<text x="92.45" y="367.01" font-size="4.4" font-weight="bold" text-anchor="middle" fill="#2a1a08">21</text>
<text x="92.45" y="374.92" font-size="4.4" font-weight="bold" text-anchor="middle" fill="#cfc3b0">13</text>
<text x="92.45" y="382.84" font-size="4.4" font-weight="bold" text-anchor="middle" fill="#cfc3b0">16</text>
<text x="92.45" y="387.13" font-size="4.4" font-weight="bold" text-anchor="middle" fill="#cfc3b0">12</text>
<text x="92.45" y="396.86" font-size="4.4" font-weight="bold" text-anchor="middle" fill="#2a1a08">14</text>
<text x="92.45" y="408.41" font-size="4.4" font-weight="bold" text-anchor="middle" fill="#cfc3b0">19</text>
<text x="92.45" y="414.51" font-size="4.4" font-weight="bold" text-anchor="middle" fill="#2a1a08">25</text>
<text x="92.45" y="422.43" font-size="4.4" font-weight="bold" text-anchor="middle" fill="#cfc3b0">7</text>
<text x="92.45" y="430.34" font-size="4.4" font-weight="bold" text-anchor="middle" fill="#cfc3b0">6</text>
<text x="92.45" y="436.45" font-size="4.4" font-weight="bold" text-anchor="middle" fill="#cfc3b0">10</text>
<text x="92.45" y="442.55" font-size="4.4" font-weight="bold" text-anchor="middle" fill="#2a1a08">22</text>
<text x="92.45" y="446.84" font-size="4.4" font-weight="bold" text-anchor="middle" fill="#cfc3b0">5</text>
<text x="160.9" y="314.06" font-size="4.4" font-weight="bold" text-anchor="middle" fill="#2a1214">0.1-0.2</text>
<text x="160.9" y="390.38" font-size="4.4" font-weight="bold" text-anchor="middle" fill="#2a1214">0.0-0.1</text>
<text x="160.9" y="423.15" font-size="4.4" font-weight="bold" text-anchor="middle" fill="#2a1214">0.2-0.3</text>
<text x="160.9" y="446.83" font-size="4.4" font-weight="bold" text-anchor="middle" fill="#d3bfc2">0.3-0.4</text>
<text x="231.25" y="277.76" font-size="4.4" font-weight="bold" text-anchor="middle" fill="#b9cfd2">0.5-0.6</text>
<text x="231.25" y="335.89" font-size="4.4" font-weight="bold" text-anchor="middle" fill="#10282a">0.3-0.4</text>
<text x="231.25" y="386.75" font-size="4.4" font-weight="bold" text-anchor="middle" fill="#10282a">0.4-0.5</text>
<text x="231.25" y="410.4" font-size="4.4" font-weight="bold" text-anchor="middle" fill="#b9cfd2">0.2-0.3</text>
<text x="231.25" y="419.52" font-size="4.4" font-weight="bold" text-anchor="middle" fill="#b9cfd2">0.7-0.8</text>
<text x="231.25" y="434.08" font-size="4.4" font-weight="bold" text-anchor="middle" fill="#10282a">0.6-0.7</text>
<text x="231.25" y="446.84" font-size="4.4" font-weight="bold" text-anchor="middle" fill="#b9cfd2">0.8-0.9</text>
<text x="302.45" y="269.74" font-size="3.3" font-weight="bold" text-anchor="middle" fill="#4a5260">'Hall'-Type</text>
<text x="302.45" y="273.38" font-size="3.3" font-weight="bold" text-anchor="middle" fill="#4a5260">Layout</text>
<text x="302.45" y="331.54" font-size="3.3" font-weight="bold" text-anchor="middle" fill="#101820">'Ax'-Type</text>
<text x="302.45" y="335.19" font-size="3.3" font-weight="bold" text-anchor="middle" fill="#101820">Layout</text>
<text x="302.45" y="396.97" font-size="3.3" font-weight="bold" text-anchor="middle" fill="#101820">'Ve'-Type</text>
<text x="302.45" y="400.62" font-size="3.3" font-weight="bold" text-anchor="middle" fill="#101820">Layout</text>
<text x="302.45" y="435.18" font-size="3.3" font-weight="bold" text-anchor="middle" fill="#101820">'W'-Type</text>
<text x="302.45" y="438.83" font-size="3.3" font-weight="bold" text-anchor="middle" fill="#101820">Layout</text>
<text x="5.3" y="244.8" font-size="10.5" fill="#000">Type 3 (c)</text>
<g font-size="6.8" fill="#0a0a0a">
<text x="5.5" y="460.7">New Space Type</text>
<text x="71" y="458.3">Number of Internal</text>
<text x="71" y="465.3">Space</text>
<text x="138.1" y="458.3">Minimum Range of</text>
<text x="138.1" y="465.3">ηRA’s Value</text>
<text x="207.2" y="458.3">Maximum Range of</text>
<text x="207.2" y="465.3">ηRA’s Value</text>
<text x="273.1" y="460.7">Primitive Space Type</text>
</g>
<g fill="#5a63aa" fill-opacity="0.72"><path d="M378.75,430.38C404.88,430.38 404.88,306.11 431,306.11L431,309.29C404.88,309.29 404.88,433.56 378.75,433.56Z"/><path d="M378.75,434C404.88,434 404.88,332.99 431,332.99L431,336.17C404.88,336.17 404.88,437.19 378.75,437.19Z"/><path d="M378.75,437.63C404.88,437.63 404.88,423.81 431,423.81L431,426.99C404.88,426.99 404.88,440.81 378.75,440.81Z"/><path d="M378.75,441.26C404.88,441.26 404.88,436.17 431,436.17L431,439.35C404.88,439.35 404.88,444.44 378.75,444.44Z"/><path d="M378.75,444.89C404.88,444.89 404.88,444.9 431,444.9L431,448.08C404.88,448.08 404.88,448.07 378.75,448.07Z"/></g>
<g fill="#df9446" fill-opacity="0.72"><path d="M449.9,306.11C476.1,306.11 476.1,433.48 502.3,433.48L502.3,436.66C476.1,436.66 476.1,309.29 449.9,309.29Z"/><path d="M449.9,332.99C476.1,332.99 476.1,367.09 502.3,367.09L502.3,370.27C476.1,370.27 476.1,336.17 449.9,336.17Z"/><path d="M449.9,423.81C476.1,423.81 476.1,370.72 502.3,370.72L502.3,373.9C476.1,373.9 476.1,426.99 449.9,426.99Z"/><path d="M449.9,436.17C476.1,436.17 476.1,437.11 502.3,437.11L502.3,440.29C476.1,440.29 476.1,439.35 449.9,439.35Z"/><path d="M449.9,444.9C476.1,444.9 476.1,444.89 502.3,444.89L502.3,448.07C476.1,448.07 476.1,448.08 449.9,448.08Z"/></g>
<g fill="#d97d83" fill-opacity="0.72"><path d="M521.8,367.09C547.8,367.09 547.8,358.27 573.8,358.27L573.8,365.08C547.8,365.08 547.8,373.9 521.8,373.9Z"/><path d="M521.8,433.48C547.8,433.48 547.8,298.12 573.8,298.12L573.8,301.3C547.8,301.3 547.8,436.66 521.8,436.66Z"/><path d="M521.8,437.11C547.8,437.11 547.8,439.19 573.8,439.19L573.8,442.37C547.8,442.37 547.8,440.29 521.8,440.29Z"/><path d="M521.8,444.89C547.8,444.89 547.8,400.28 573.8,400.28L573.8,403.46C547.8,403.46 547.8,448.07 521.8,448.07Z"/></g>
<g fill="#72b8ba" fill-opacity="0.72"><path d="M593.1,298.12C619.2,298.12 619.2,363.98 645.3,363.98L645.3,367.16C619.2,367.16 619.2,301.3 593.1,301.3Z"/><path d="M593.1,358.27C619.2,358.27 619.2,279.97 645.3,279.97L645.3,283.15C619.2,283.15 619.2,361.45 593.1,361.45Z"/><path d="M593.1,361.9C619.2,361.9 619.2,411.7 645.3,411.7L645.3,414.88C619.2,414.88 619.2,365.08 593.1,365.08Z"/><path d="M593.1,400.28C619.2,400.28 619.2,444.89 645.3,444.89L645.3,448.07C619.2,448.07 619.2,403.46 593.1,403.46Z"/><path d="M593.1,439.19C619.2,439.19 619.2,367.61 645.3,367.61L645.3,370.79C619.2,370.79 619.2,442.37 593.1,442.37Z"/></g>
<rect x="359.3" y="251" width="19.15" height="61.11" fill="#d4d7e9" stroke="#bfc4e2" stroke-width="0.6"/>
<rect x="359.3" y="316.87" width="19.15" height="75.63" fill="#d4d7e9" stroke="#bfc4e2" stroke-width="0.6"/>
<rect x="359.3" y="397.25" width="19.15" height="28.44" fill="#d4d7e9" stroke="#bfc4e2" stroke-width="0.6"/>
<rect x="359.3" y="430.45" width="19.15" height="17.55" fill="#575aa4" stroke="#5056a8" stroke-width="0.6"/>
<rect x="431.3" y="251" width="18.3" height="24.81" fill="#f4e6d2" stroke="#f0dcc4" stroke-width="0.6"/>
<rect x="431.3" y="277.14" width="18.3" height="32.07" fill="#e49747" stroke="#e39340" stroke-width="0.6"/>
<rect x="431.3" y="310.55" width="18.3" height="13.92" fill="#f4e6d2" stroke="#f0dcc4" stroke-width="0.6"/>
<rect x="431.3" y="325.8" width="18.3" height="10.29" fill="#e49747" stroke="#e39340" stroke-width="0.6"/>
<rect x="431.3" y="337.42" width="18.3" height="21.18" fill="#f4e6d2" stroke="#f0dcc4" stroke-width="0.6"/>
<rect x="431.3" y="359.94" width="18.3" height="3.03" fill="#f4e6d2" stroke="#f0dcc4" stroke-width="0.6"/>
<rect x="431.3" y="364.3" width="18.3" height="3.03" fill="#f4e6d2" stroke="#f0dcc4" stroke-width="0.6"/>
<rect x="431.3" y="368.66" width="18.3" height="10.29" fill="#f4e6d2" stroke="#f0dcc4" stroke-width="0.6"/>
<rect x="431.3" y="380.29" width="18.3" height="3.03" fill="#f4e6d2" stroke="#f0dcc4" stroke-width="0.6"/>
<rect x="431.3" y="384.65" width="18.3" height="3.03" fill="#f4e6d2" stroke="#f0dcc4" stroke-width="0.6"/>
<rect x="431.3" y="389.02" width="18.3" height="13.92" fill="#f4e6d2" stroke="#f0dcc4" stroke-width="0.6"/>
<rect x="431.3" y="404.27" width="18.3" height="6.66" fill="#f4e6d2" stroke="#f0dcc4" stroke-width="0.6"/>
<rect x="431.3" y="412.26" width="18.3" height="3.03" fill="#f4e6d2" stroke="#f0dcc4" stroke-width="0.6"/>
<rect x="431.3" y="416.63" width="18.3" height="10.29" fill="#e49747" stroke="#e39340" stroke-width="0.6"/>
<rect x="431.3" y="428.25" width="18.3" height="3.03" fill="#f4e6d2" stroke="#f0dcc4" stroke-width="0.6"/>
<rect x="431.3" y="432.61" width="18.3" height="6.66" fill="#e49747" stroke="#e39340" stroke-width="0.6"/>
<rect x="431.3" y="440.61" width="18.3" height="3.03" fill="#f4e6d2" stroke="#f0dcc4" stroke-width="0.6"/>
<rect x="431.3" y="444.97" width="18.3" height="3.03" fill="#e49747" stroke="#e39340" stroke-width="0.6"/>
<rect x="502.6" y="251" width="18.9" height="122.82" fill="#df777b" stroke="#df777b" stroke-width="0.6"/>
<rect x="502.6" y="378.58" width="18.9" height="21.18" fill="#f2dde0" stroke="#f0d6da" stroke-width="0.6"/>
<rect x="502.6" y="404.51" width="18.9" height="35.7" fill="#df777b" stroke="#df777b" stroke-width="0.6"/>
<rect x="502.6" y="444.97" width="18.9" height="3.03" fill="#df777b" stroke="#df777b" stroke-width="0.6"/>
<rect x="574.1" y="251" width="18.7" height="50.22" fill="#74b3b8" stroke="#74b3b8" stroke-width="0.6"/>
<rect x="574.1" y="303.9" width="18.7" height="61.11" fill="#74b3b8" stroke="#74b3b8" stroke-width="0.6"/>
<rect x="574.1" y="367.69" width="18.7" height="35.7" fill="#74b3b8" stroke="#74b3b8" stroke-width="0.6"/>
<rect x="574.1" y="406.06" width="18.7" height="6.66" fill="#dbecef" stroke="#d2e6e9" stroke-width="0.6"/>
<rect x="574.1" y="415.4" width="18.7" height="6.66" fill="#dbecef" stroke="#d2e6e9" stroke-width="0.6"/>
<rect x="574.1" y="424.74" width="18.7" height="17.55" fill="#74b3b8" stroke="#74b3b8" stroke-width="0.6"/>
<rect x="574.1" y="444.97" width="18.7" height="3.03" fill="#dbecef" stroke="#d2e6e9" stroke-width="0.6"/>
<rect x="645.6" y="251" width="19.1" height="32.07" fill="#a4c1dd" stroke="#a0bedc" stroke-width="0.6"/>
<rect x="645.6" y="287.83" width="19.1" height="82.89" fill="#a4c1dd" stroke="#a0bedc" stroke-width="0.6"/>
<rect x="645.6" y="375.47" width="19.1" height="39.33" fill="#a4c1dd" stroke="#a0bedc" stroke-width="0.6"/>
<rect x="645.6" y="419.56" width="19.1" height="28.44" fill="#a4c1dd" stroke="#a0bedc" stroke-width="0.6"/>
<text x="360.6" y="278.75" font-size="3.3" fill="#55576a">Hall</text>
<text x="360.6" y="282.55" font-size="3.3" fill="#55576a">Connection</text>
<text x="360.6" y="286.35" font-size="3.3" fill="#55576a">Type</text>
<text x="360.6" y="351.88" font-size="3.3" fill="#55576a">Patio</text>
<text x="360.6" y="355.68" font-size="3.3" fill="#55576a">Connection</text>
<text x="360.6" y="359.48" font-size="3.3" fill="#55576a">Type</text>
<text x="360.6" y="408.67" font-size="3.3" fill="#55576a">Walkway</text>
<text x="360.6" y="412.47" font-size="3.3" fill="#55576a">Connection</text>
<text x="360.6" y="416.27" font-size="3.3" fill="#55576a">Type</text>
<text x="360.6" y="436.42" font-size="3.3" fill="#000000">Courtyard</text>
<text x="360.6" y="440.22" font-size="3.3" fill="#000000">Connection</text>
<text x="360.6" y="444.02" font-size="3.3" fill="#000000">Type</text>
<text x="440.45" y="264.85" font-size="4.4" font-weight="bold" text-anchor="middle" fill="#cfc3b0">9</text>
<text x="440.45" y="294.63" font-size="4.4" font-weight="bold" text-anchor="middle" fill="#2a1a08">11</text>
<text x="440.45" y="318.96" font-size="4.4" font-weight="bold" text-anchor="middle" fill="#cfc3b0">17</text>
<text x="440.45" y="332.4" font-size="4.4" font-weight="bold" text-anchor="middle" fill="#2a1a08">15</text>
<text x="440.45" y="349.46" font-size="4.4" font-weight="bold" text-anchor="middle" fill="#cfc3b0">8</text>
<text x="440.45" y="362.9" font-size="4.4" font-weight="bold" text-anchor="middle" fill="#cfc3b0">23</text>
<text x="440.45" y="367.27" font-size="4.4" font-weight="bold" text-anchor="middle" fill="#cfc3b0">21</text>
<text x="440.45" y="375.26" font-size="4.4" font-weight="bold" text-anchor="middle" fill="#cfc3b0">15</text>
<text x="440.45" y="383.25" font-size="4.4" font-weight="bold" text-anchor="middle" fill="#cfc3b0">16</text>
<text x="440.45" y="387.62" font-size="4.4" font-weight="bold" text-anchor="middle" fill="#cfc3b0">12</text>
<text x="440.45" y="397.43" font-size="4.4" font-weight="bold" text-anchor="middle" fill="#cfc3b0">14</text>
<text x="440.45" y="409.05" font-size="4.4" font-weight="bold" text-anchor="middle" fill="#cfc3b0">19</text>
<text x="440.45" y="415.23" font-size="4.4" font-weight="bold" text-anchor="middle" fill="#cfc3b0">25</text>
<text x="440.45" y="423.22" font-size="4.4" font-weight="bold" text-anchor="middle" fill="#2a1a08">7</text>
<text x="440.45" y="431.21" font-size="4.4" font-weight="bold" text-anchor="middle" fill="#cfc3b0">6</text>
<text x="440.45" y="437.39" font-size="4.4" font-weight="bold" text-anchor="middle" fill="#2a1a08">10</text>
<text x="440.45" y="443.57" font-size="4.4" font-weight="bold" text-anchor="middle" fill="#cfc3b0">22</text>
<text x="440.45" y="447.94" font-size="4.4" font-weight="bold" text-anchor="middle" fill="#2a1a08">5</text>
<text x="510.85" y="313.86" font-size="4.4" font-weight="bold" text-anchor="middle" fill="#2a1214">0.1-0.2</text>
<text x="510.85" y="390.62" font-size="4.4" font-weight="bold" text-anchor="middle" fill="#d3bfc2">0.0-0.1</text>
<text x="510.85" y="423.81" font-size="4.4" font-weight="bold" text-anchor="middle" fill="#2a1214">0.2-0.3</text>
<text x="510.85" y="447.93" font-size="4.4" font-weight="bold" text-anchor="middle" fill="#2a1214">0.3-0.4</text>
<text x="582.25" y="277.56" font-size="4.4" font-weight="bold" text-anchor="middle" fill="#10282a">0.5-0.6</text>
<text x="582.25" y="335.9" font-size="4.4" font-weight="bold" text-anchor="middle" fill="#10282a">0.3-0.4</text>
<text x="582.25" y="386.99" font-size="4.4" font-weight="bold" text-anchor="middle" fill="#10282a">0.4-0.5</text>
<text x="582.25" y="410.84" font-size="4.4" font-weight="bold" text-anchor="middle" fill="#b9cfd2">0.2-0.3</text>
<text x="582.25" y="420.18" font-size="4.4" font-weight="bold" text-anchor="middle" fill="#b9cfd2">0.7-0.8</text>
<text x="582.25" y="434.97" font-size="4.4" font-weight="bold" text-anchor="middle" fill="#10282a">0.6-0.7</text>
<text x="582.25" y="447.93" font-size="4.4" font-weight="bold" text-anchor="middle" fill="#b9cfd2">0.8-0.9</text>
<text x="655.15" y="268.74" font-size="3.3" font-weight="bold" text-anchor="middle" fill="#101820">'Hall'-Type</text>
<text x="655.15" y="272.38" font-size="3.3" font-weight="bold" text-anchor="middle" fill="#101820">Layout</text>
<text x="655.15" y="330.97" font-size="3.3" font-weight="bold" text-anchor="middle" fill="#101820">'Ax'-Type</text>
<text x="655.15" y="334.62" font-size="3.3" font-weight="bold" text-anchor="middle" fill="#101820">Layout</text>
<text x="655.15" y="396.84" font-size="3.3" font-weight="bold" text-anchor="middle" fill="#101820">'Ve'-Type</text>
<text x="655.15" y="400.49" font-size="3.3" font-weight="bold" text-anchor="middle" fill="#101820">Layout</text>
<text x="655.15" y="435.48" font-size="3.3" font-weight="bold" text-anchor="middle" fill="#101820">'W'-Type</text>
<text x="655.15" y="439.13" font-size="3.3" font-weight="bold" text-anchor="middle" fill="#101820">Layout</text>
<text x="338.8" y="244.8" font-size="10.5" fill="#000">Type 4 (d)</text>
<g font-size="6.8" fill="#0a0a0a">
<text x="346.6" y="461.5">New Space Type</text>
<text x="412.4" y="459.4">Number of Internal</text>
<text x="412.4" y="466.6">Space</text>
<text x="479.8" y="459.4">Minimum Range of</text>
<text x="479.8" y="466.6">ηRA’s Value</text>
<text x="548.8" y="459.4">Maximum Range of</text>
<text x="548.8" y="466.6">ηRA’s Value</text>
<text x="614.7" y="461.5">Primitive Space Type</text>
</g>
<rect x="0" y="0" width="685" height="0.8" fill="#e4e4e4"/>
<rect x="684" y="0" width="1" height="495" fill="#eeeeee"/>
<rect x="0" y="0" width="1.3" height="495" fill="#cdcdcd"/>
<rect x="1" y="0.8" width="683.2" height="1.2" fill="#151515"/>
<rect x="682.6" y="0.8" width="1.4" height="493.4" fill="#1a1a1a"/>
<path d="M334.05,1 L335.2,1 L336.5,471.5 L335.05,471.5 Z" fill="#1a1a1a"/>
<rect x="1.2" y="235" width="682" height="1.9" fill="#303030"/>
<rect x="1.2" y="471.1" width="682" height="1.6" fill="#2a2a2a"/>
<rect x="1.2" y="492.9" width="682.8" height="1.3" fill="#151515"/>
<rect x="644.3" y="481.5" width="39.6" height="12.4" fill="#000"/>
<text x="651.8" y="489.6" font-size="8.1" fill="#fff">Legend</text>
<g font-size="8.1" fill="#0a0a0a">
<text x="5.6" y="484.8">Type 1 : Hall Connection Type</text>
<text x="127" y="484.8">Type 2 : Patio Connection Type</text>
<text x="242.8" y="484.8">Type 3 : Walkway Connection Type</text>
<text x="371.2" y="484.8">Type 4 : Courtyard Connection Type</text>
</g>
</svg>
</body></html>
